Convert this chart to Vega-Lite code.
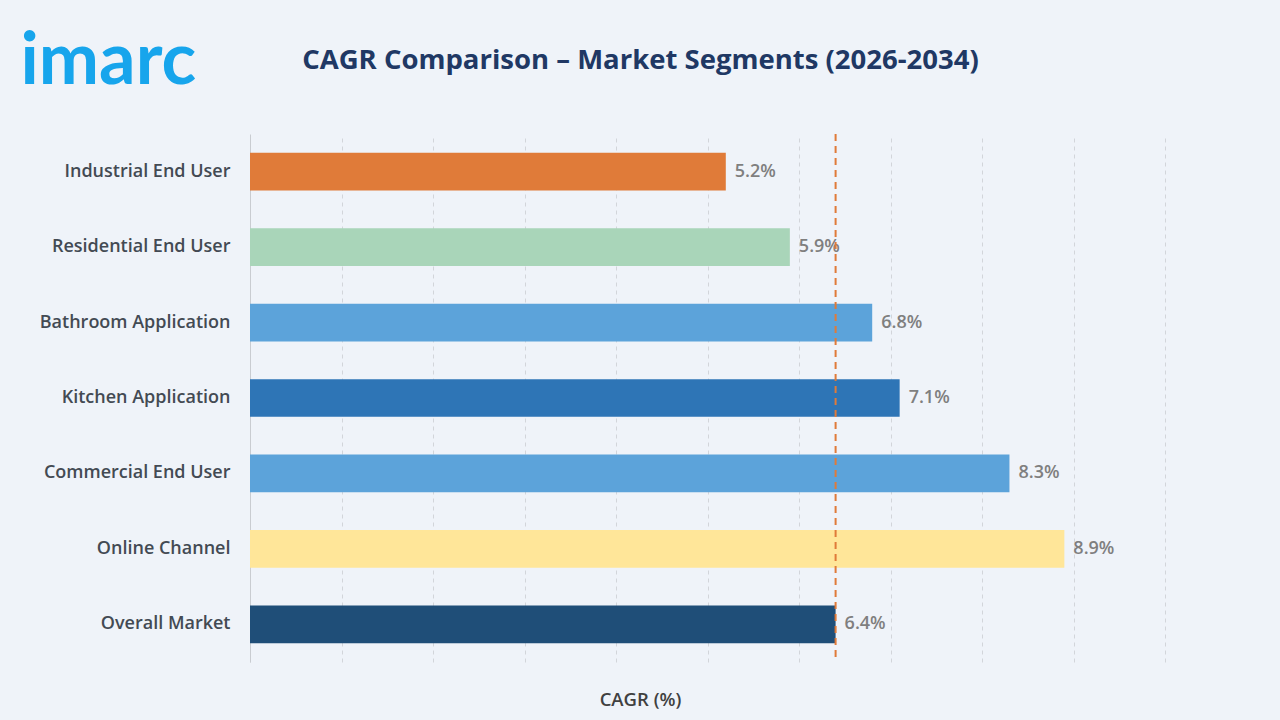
{
  "$schema": "https://vega.github.io/schema/vega-lite/v6.json",
  "width": 915,
  "height": 528,
  "autosize": {"type": "none"},
  "padding": {"left": 250, "top": 134, "right": 115, "bottom": 58},
  "background": "#eff3f9",
  "title": {
    "text": "CAGR Comparison – Market Segments (2026-2034)",
    "anchor": "middle",
    "frame": "group",
    "dx": -67,
    "offset": 0,
    "dy": 49,
    "fontSize": 27.5,
    "font": "Open Sans",
    "fontWeight": "bold",
    "color": "#203864"
  },
  "data": {
    "values": [
      {"segment": "Industrial End User", "cagr": 5.2, "label": "5.2%"},
      {"segment": "Residential End User", "cagr": 5.9, "label": "5.9%"},
      {"segment": "Bathroom Application", "cagr": 6.8, "label": "6.8%"},
      {"segment": "Kitchen Application", "cagr": 7.1, "label": "7.1%"},
      {"segment": "Commercial End User", "cagr": 8.3, "label": "8.3%"},
      {"segment": "Online Channel", "cagr": 8.9, "label": "8.9%"},
      {"segment": "Overall Market", "cagr": 6.4, "label": "6.4%"}
    ]
  },
  "layer": [
    {
      "mark": {"type": "bar"},
      "encoding": {
        "y": {
          "field": "segment",
          "type": "nominal",
          "sort": null,
          "scale": {"paddingInner": 0.5, "paddingOuter": 0.25},
          "axis": {
            "title": "imarc",
            "titleAngle": 0,
            "titleX": -230,
            "titleY": -73,
            "titleAlign": "left",
            "titleBaseline": "middle",
            "titleFont": "Lato",
            "titleFontSize": 72,
            "titleFontWeight": "bold",
            "titleColor": "#17a5ec",
            "ticks": false,
            "domain": true,
            "domainColor": "#c9ccd1",
            "labelPadding": 20,
            "labelFont": "Open Sans",
            "labelFontSize": 18,
            "labelFontWeight": 600,
            "labelColor": "#434a53",
            "labelLimit": 300
          }
        },
        "x": {
          "field": "cagr",
          "type": "quantitative",
          "scale": {"domain": [0, 10]},
          "axis": {
            "title": "CAGR (%)",
            "titleX": 390,
            "titleY": 28,
            "titleFont": "Open Sans",
            "titleFontSize": 18.5,
            "titleFontWeight": 600,
            "titleColor": "#404040",
            "labels": false,
            "ticks": false,
            "domain": false,
            "tickCount": 10,
            "grid": true,
            "gridColor": "#d2d5da",
            "gridDash": [4, 4],
            "gridWidth": 1
          }
        },
        "color": {
          "field": "segment",
          "type": "nominal",
          "legend": null,
          "scale": {
            "domain": ["Industrial End User", "Residential End User", "Bathroom Application", "Kitchen Application", "Commercial End User", "Online Channel", "Overall Market"],
            "range": ["#e07b39", "#a9d5b9", "#5ca3da", "#2e75b6", "#5ca3da", "#ffe699", "#1f4e78"]
          }
        }
      }
    },
    {
      "mark": {"type": "text", "align": "left", "baseline": "middle", "dx": 9, "font": "Open Sans", "fontSize": 18, "fontWeight": 600, "color": "#7f7f7f"},
      "encoding": {
        "y": {"field": "segment", "type": "nominal", "sort": null},
        "x": {"field": "cagr", "type": "quantitative"},
        "text": {"field": "label"}
      }
    },
    {
      "data": {"values": [{"ref": 6.4}]},
      "mark": {"type": "rule", "color": "#e07b39", "strokeDash": [7, 5], "strokeWidth": 2},
      "encoding": {
        "x": {"field": "ref", "type": "quantitative"}
      }
    }
  ],
  "config": {
    "view": {"stroke": null}
  }
}
